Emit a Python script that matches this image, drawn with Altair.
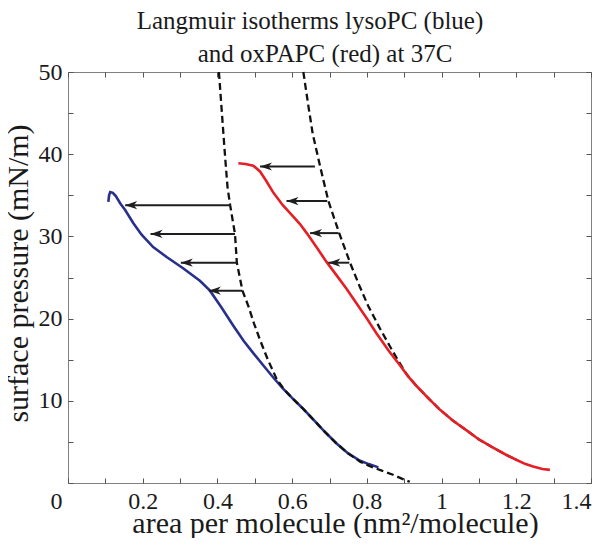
import altair as alt
import pandas as pd

# ---------------- data ----------------
blue_area = [0.108, 0.110, 0.113, 0.120, 0.128, 0.140, 0.153, 0.175, 0.197, 0.228, 0.264,
             0.309, 0.353, 0.380, 0.410, 0.443, 0.470, 0.496, 0.523, 0.550, 0.575, 0.603,
             0.630, 0.657, 0.688, 0.719, 0.750, 0.782, 0.805, 0.831]
blue_pressure = [34.2, 35.0, 35.4, 35.3, 34.9, 34.0, 33.2, 31.6, 30.2, 28.7, 27.5,
                 26.1, 24.6, 23.4, 21.4, 19.1, 17.3, 15.8, 14.3, 12.8, 11.5, 10.2,
                 9.0, 7.7, 6.2, 4.8, 3.6, 2.7, 2.3, 1.9]

blue_fit_area = [0.404, 0.412, 0.420, 0.427, 0.434, 0.447, 0.452, 0.460, 0.467, 0.483, 0.498,
                 0.514, 0.535, 0.559, 0.580, 0.603, 0.630, 0.657, 0.688, 0.719, 0.750, 0.782,
                 0.810, 0.840, 0.870, 0.895, 0.915]
blue_fit_pressure = [50.0, 45.0, 40.0, 36.0, 33.8, 30.3, 26.8, 25.0, 23.4, 21.5, 19.4,
                     17.4, 15.0, 12.6, 11.3, 10.2, 9.0, 7.7, 6.2, 4.8, 3.6, 2.6,
                     2.0, 1.5, 1.0, 0.5, 0.15]

red_area = [0.456, 0.475, 0.496, 0.514, 0.530, 0.550, 0.575, 0.603, 0.621, 0.639, 0.665,
            0.692, 0.720, 0.746, 0.773, 0.800, 0.826, 0.860, 0.889, 0.910, 0.933, 0.965,
            0.996, 1.030, 1.067, 1.100, 1.138, 1.170, 1.201, 1.225, 1.245, 1.270, 1.290]
red_pressure = [38.9, 38.8, 38.6, 37.9, 36.8, 35.3, 33.8, 32.4, 31.5, 30.4, 28.7,
                26.9, 25.2, 23.6, 21.8, 20.0, 18.2, 16.0, 14.3, 13.0, 11.8, 10.3,
                8.9, 7.6, 6.4, 5.3, 4.3, 3.5, 2.8, 2.3, 2.0, 1.7, 1.6]

red_fit_area = [0.630, 0.643, 0.655, 0.667, 0.675, 0.697, 0.726, 0.755, 0.780, 0.804, 0.835,
                0.862, 0.885, 0.907, 0.933, 0.965, 0.996, 1.030, 1.067, 1.100, 1.138, 1.170, 1.201]
red_fit_pressure = [50.0, 46.0, 42.5, 40.1, 38.5, 34.3, 30.4, 26.8, 24.0, 21.5, 18.8,
                    16.6, 14.8, 13.2, 11.8, 10.3, 8.9, 7.6, 6.4, 5.3, 4.3, 3.5, 2.8]

arrow_pressure = [33.8, 30.3, 26.8, 23.4, 38.5, 34.3, 30.4, 26.8]
arrow_tail = [0.434, 0.447, 0.452, 0.467, 0.661, 0.694, 0.724, 0.753]
arrow_tip = [0.153, 0.221, 0.302, 0.377, 0.514, 0.585, 0.648, 0.697]

x_label_values = [0, 0.2, 0.4, 0.6, 0.8, 1.0, 1.2, 1.4]
x_tick_values = [0, 0.1, 0.2, 0.3, 0.4, 0.5, 0.6, 0.7, 0.8, 0.9, 1.0, 1.1, 1.2, 1.3, 1.4]
y_label_values = [10, 20, 30, 40, 50]
y_tick_values = [0, 5, 10, 15, 20, 25, 30, 35, 40, 45, 50]

title_lines = ["Langmuir isotherms lysoPC (blue)", "and oxPAPC (red) at 37C"]
x_title = "area per molecule (nm\u00b2/molecule)"
y_title = "surface pressure (mN/m)"

# ---------------- build tables ----------------
def curve(a, p):
    return pd.DataFrame({"a": a, "p": p, "i": list(range(len(a)))})

blue = curve(blue_area, blue_pressure)
blue_fit = curve(blue_fit_area, blue_fit_pressure)
red = curve(red_area, red_pressure)
red_fit = curve(red_fit_area, red_fit_pressure)
arrows = pd.DataFrame({"p": arrow_pressure, "tail": arrow_tail, "tip": arrow_tip})

W, H = 523, 411
FONT = "Liberation Serif"
TXT = "#1a1a1a"
TICK = "#555555"
# zero-width space keeps the following em/thin spaces from being trimmed
INDENT = "\u200b\u2003\u2009"

xs = alt.Scale(domain=[0, 1.4], nice=False, zero=False)
ys = alt.Scale(domain=[0, 50], nice=False, zero=False)

x_main_axis = alt.Axis(
    values=x_label_values, format=".2~f",
    ticks=False, tickSize=0, domain=False, grid=False,
    labelFont=FONT, labelFontSize=24, labelColor=TXT, labelPadding=6,
    labelOffset={"condition": {"test": "datum.value == 0", "value": -18}, "value": 0},
    title=x_title, titleFont=FONT, titleFontSize=30, titleFontWeight="normal",
    titleColor=TXT, titleX=267, titleY=49, titleBaseline="alphabetic", titleAlign="center",
)
y_main_axis = alt.Axis(
    values=y_label_values, format="d", ticks=False, tickSize=0, domain=False, grid=False,
    labelFont=FONT, labelFontSize=24, labelColor=TXT, labelPadding=6,
    title=y_title, titleFont=FONT, titleFontSize=30, titleFontWeight="normal",
    titleColor=TXT, titleAngle=270, titleX=-41, titleY=201, titleBaseline="alphabetic",
    titleAlign="center",
)

def tick_axis(orient, offset, vals):
    return alt.Axis(orient=orient, offset=offset, values=vals, labels=False, ticks=True,
                    tickSize=5, tickColor=TICK, tickWidth=1, domain=False, grid=False,
                    title=None)

line_blue = alt.Chart(blue).mark_line(color="#27318b", strokeWidth=2.6).encode(
    x=alt.X("a:Q", scale=xs, axis=x_main_axis),
    y=alt.Y("p:Q", scale=ys, axis=y_main_axis),
    order="i:Q",
)
dash_blue = alt.Chart(blue_fit).mark_line(color="#111111", strokeWidth=2.3, strokeDash=[7, 4]).encode(
    x=alt.X("a:Q", scale=xs, axis=tick_axis("top", -H, x_tick_values)),
    y=alt.Y("p:Q", scale=ys, axis=tick_axis("right", -W, y_tick_values)),
    order="i:Q",
)
dash_red = alt.Chart(red_fit).mark_line(color="#111111", strokeWidth=2.3, strokeDash=[7, 4]).encode(
    x=alt.X("a:Q", scale=xs, axis=tick_axis("bottom", -H, x_tick_values)),
    y=alt.Y("p:Q", scale=ys, axis=tick_axis("left", -W, y_tick_values)),
    order="i:Q",
)
line_red = alt.Chart(red).mark_line(color="#e41f26", strokeWidth=2.6).encode(
    x=alt.X("a:Q", scale=xs, axis=None),
    y=alt.Y("p:Q", scale=ys, axis=None),
    order="i:Q",
)
shafts = alt.Chart(arrows).mark_rule(color="#1e1e1e", strokeWidth=2).encode(
    x=alt.X("tail:Q", scale=xs, axis=None),
    x2="tip:Q",
    y=alt.Y("p:Q", scale=ys, axis=None),
)
heads = alt.Chart(arrows).mark_point(
    shape="M0,0L1,-0.34L0.72,0L1,0.34Z", filled=True, size=576, color="#1e1e1e",
    opacity=1, strokeWidth=0,
).encode(
    x=alt.X("tip:Q", scale=xs, axis=None),
    y=alt.Y("p:Q", scale=ys, axis=None),
)

chart = alt.layer(
    line_blue, dash_red, line_red, dash_blue, shafts, heads
).resolve_axis(
    x="independent", y="independent"
).properties(
    width=W, height=H,
    padding={"left": 60, "top": 64, "right": 1, "bottom": 55},
    autosize=alt.AutoSizeParams(type="none"),
    title=alt.TitleParams(
        text=[title_lines[0], INDENT + title_lines[1]],
        font=FONT, fontSize=25, fontWeight="normal", color=TXT, lineHeight=33,
        anchor="middle", frame="group", dx=-19.5, offset=-32, baseline="bottom",
    ),
).configure_view(stroke="#808080", strokeWidth=1)

chart.save("out.html", embed_options={"renderer": "svg", "actions": False})
